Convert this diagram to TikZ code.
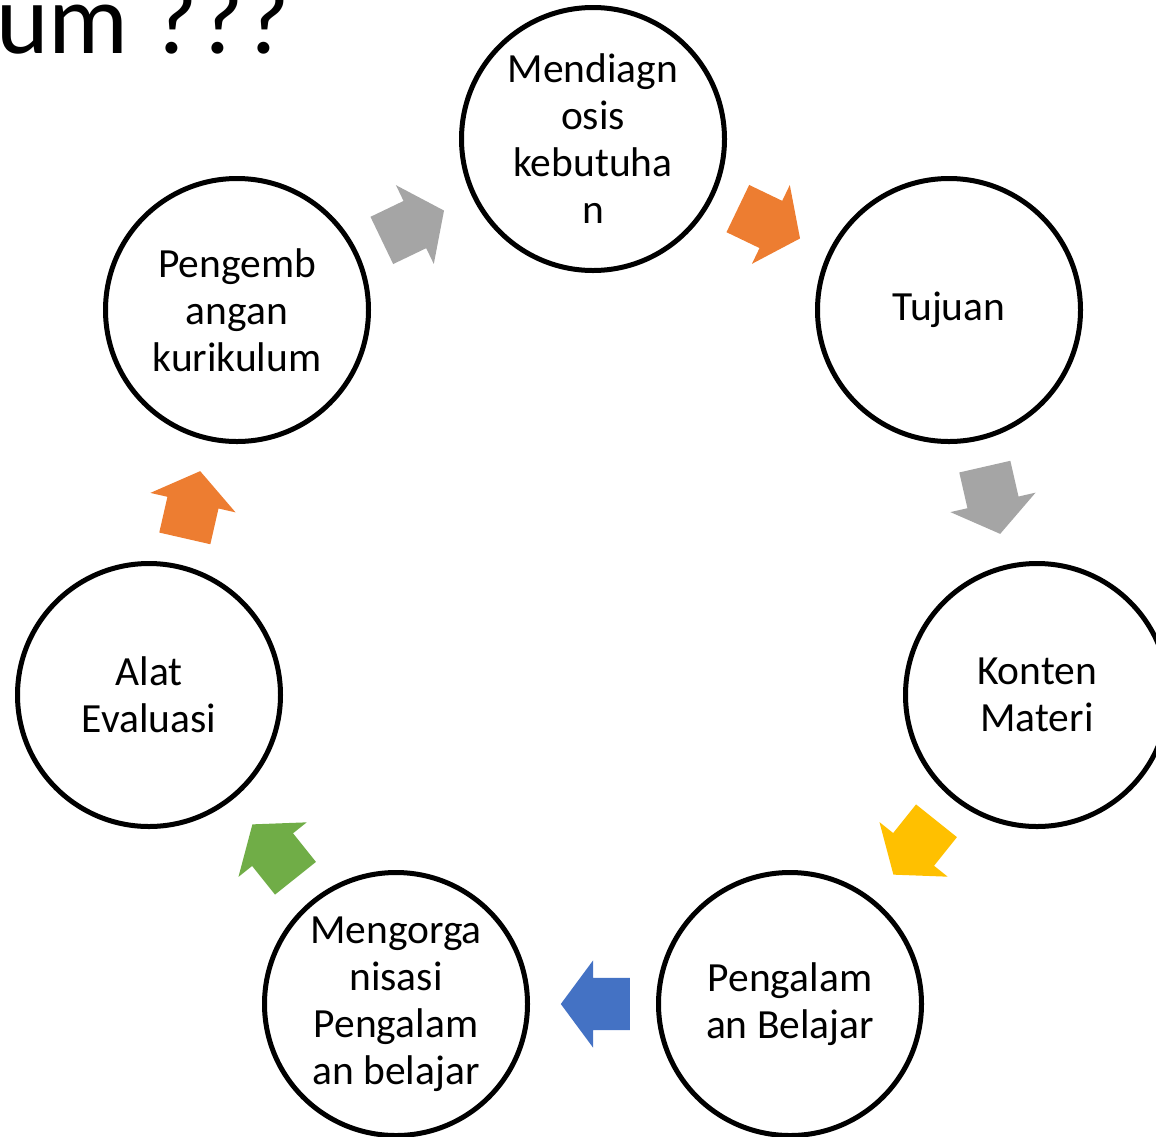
\documentclass[tikz,border=0pt]{standalone}
\usepackage{fontspec}
\setmainfont{Carlito}
\usetikzlibrary{shapes.arrows,calc}
\definecolor{offgray}{HTML}{A5A5A5}
\definecolor{offorange}{HTML}{ED7D31}
\definecolor{offyellow}{HTML}{FFC000}
\definecolor{offblue}{HTML}{4472C4}
\definecolor{offgreen}{HTML}{70AD47}
\tikzset{
  stage/.style ={circle, draw=black, line width=5pt, fill=white, minimum size=263pt,
                 inner sep=0pt, align=center, font=\fontsize{41.5pt}{47pt}\selectfont},
  barrow/.style={single arrow, draw=none, inner xsep=0pt, inner ysep=26pt, minimum height=69pt,
                 minimum width=87pt, single arrow head extend=17.5pt,
                 single arrow tip angle=107, sloped, allow upside down, xshift=-12pt},
}
\begin{document}
\begin{tikzpicture}[x=1pt,y=-1pt]
\useasboundingbox (0,0) rectangle (1156,1136);
\node[anchor=base west, inner sep=0pt, font=\fontsize{100pt}{100pt}\selectfont] (ttl) at (-4,53) {um ???};

\node[stage] (diag)  at (593,139)  {Mendiagn\\osis\\kebutuha\\n};
\node[stage] (tuj)   at (949,310)  {Tujuan};
\node[stage] (kont)  at (1037,695) {Konten\\Materi};
\node[stage] (peng)  at (790,1004) {Pengalam\\an Belajar};
\node[stage] (org)   at (396,1004) {Mengorga\\nisasi\\Pengalam\\an belajar};
\node[stage] (eval)  at (149,695)  {Alat\\Evaluasi};
\node[stage] (kurik) at (237,310)  {Pengemb\\angan\\kurikulum};

\path (kurik) -- node[barrow, fill=offgray]   {} (diag);
\path (diag)  -- node[barrow, fill=offorange] {} (tuj);
\path (tuj)   -- node[barrow, fill=offgray]   {} (kont);
\path (kont)  -- node[barrow, fill=offyellow] {} (peng);
\path (peng)  -- node[barrow, fill=offblue]   {} (org);
\path (org)   -- node[barrow, fill=offgreen]  {} (eval);
\path (eval)  -- node[barrow, fill=offorange] {} (kurik);
\end{tikzpicture}
\end{document}
